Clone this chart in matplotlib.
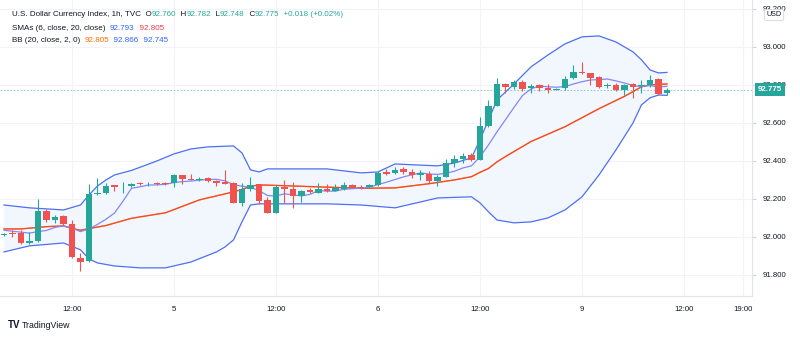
import matplotlib.pyplot as plt
import matplotlib.transforms as mtransforms
import numpy as np

plt.rcParams['font.family'] = ['Liberation Sans', 'DejaVu Sans']

# hourly candles, 04:00 on the 4th .. 10:00 on the 9th
opens = [92.012, 92.022, 92.021, 91.968, 91.981, 92.138, 92.089, 92.109, 92.068, 91.891,
         91.872, 92.226, 92.232, 92.272, 92.266, 92.270, 92.283, 92.277, 92.283, 92.285,
         92.286, 92.325, 92.305, 92.300, 92.309, 92.295, 92.289, 92.284, 92.181, 92.254,
         92.279, 92.196, 92.128, 92.265, 92.251, 92.217, 92.247, 92.233, 92.253, 92.244,
         92.253, 92.274, 92.265, 92.265, 92.272, 92.340, 92.335, 92.360, 92.340, 92.326,
         92.330, 92.296, 92.317, 92.391, 92.409, 92.430, 92.405, 92.584, 92.689, 92.805,
         92.791, 92.816, 92.783, 92.797, 92.786, 92.775, 92.783, 92.835, 92.870, 92.862,
         92.842, 92.792, 92.800, 92.774, 92.805, 92.795, 92.797, 92.832, 92.760]
highs = [92.020, 92.035, 92.036, 92.028, 92.198, 92.146, 92.117, 92.116, 92.089, 91.914,
         92.279, 92.310, 92.284, 92.274, 92.291, 92.286, 92.289, 92.290, 92.290, 92.290,
         92.330, 92.326, 92.330, 92.315, 92.316, 92.300, 92.353, 92.290, 92.283, 92.317,
         92.279, 92.210, 92.274, 92.300, 92.291, 92.247, 92.260, 92.283, 92.280, 92.280,
         92.290, 92.280, 92.272, 92.276, 92.345, 92.360, 92.370, 92.370, 92.360, 92.352,
         92.345, 92.325, 92.409, 92.430, 92.440, 92.440, 92.630, 92.721, 92.835, 92.810,
         92.826, 92.826, 92.804, 92.804, 92.804, 92.784, 92.845, 92.905, 92.919, 92.862,
         92.845, 92.810, 92.810, 92.805, 92.810, 92.826, 92.853, 92.839, 92.782]
lows = [92.005, 92.000, 91.965, 91.963, 91.975, 92.079, 92.072, 92.063, 91.888, 91.823,
        91.868, 92.220, 92.226, 92.244, 92.230, 92.265, 92.272, 92.270, 92.272, 92.275,
        92.265, 92.279, 92.297, 92.295, 92.290, 92.268, 92.279, 92.176, 92.165, 92.244,
        92.175, 92.125, 92.125, 92.177, 92.151, 92.186, 92.230, 92.230, 92.235, 92.240,
        92.245, 92.255, 92.250, 92.263, 92.270, 92.325, 92.330, 92.330, 92.310, 92.300,
        92.285, 92.270, 92.314, 92.370, 92.390, 92.400, 92.403, 92.580, 92.689, 92.760,
        92.776, 92.770, 92.760, 92.770, 92.760, 92.772, 92.773, 92.830, 92.860, 92.800,
        92.785, 92.783, 92.770, 92.745, 92.730, 92.757, 92.790, 92.747, 92.748]
closes = [92.015, 92.015, 91.968, 91.980, 92.138, 92.089, 92.107, 92.068, 91.893, 91.870,
          92.226, 92.232, 92.270, 92.262, 92.270, 92.277, 92.277, 92.280, 92.277, 92.279,
          92.326, 92.304, 92.300, 92.307, 92.295, 92.286, 92.279, 92.181, 92.251, 92.275,
          92.191, 92.128, 92.265, 92.251, 92.216, 92.244, 92.237, 92.251, 92.244, 92.256,
          92.274, 92.260, 92.258, 92.272, 92.335, 92.330, 92.354, 92.344, 92.326, 92.335,
          92.296, 92.317, 92.391, 92.411, 92.426, 92.405, 92.584, 92.689, 92.805, 92.791,
          92.817, 92.779, 92.795, 92.783, 92.775, 92.780, 92.832, 92.867, 92.862, 92.838,
          92.789, 92.797, 92.774, 92.797, 92.789, 92.797, 92.826, 92.751, 92.775]

# SMA 6 line (one value per bar)
sma6 = [92.035, 92.030, 92.025, 92.020, 92.028, 92.034, 92.050, 92.058, 92.046, 92.028,
        92.042, 92.066, 92.093, 92.126, 92.188, 92.256, 92.264, 92.273, 92.274, 92.277,
        92.286, 92.291, 92.294, 92.299, 92.302, 92.303, 92.295, 92.275, 92.267, 92.261,
        92.244, 92.218, 92.215, 92.227, 92.221, 92.216, 92.224, 92.244, 92.241, 92.241,
        92.251, 92.254, 92.257, 92.261, 92.276, 92.288, 92.302, 92.316, 92.327, 92.337,
        92.331, 92.329, 92.335, 92.346, 92.363, 92.374, 92.422, 92.484, 92.553, 92.617,
        92.682, 92.744, 92.779, 92.795, 92.790, 92.788, 92.791, 92.805, 92.817, 92.826,
        92.828, 92.831, 92.821, 92.810, 92.797, 92.791, 92.797, 92.789, 92.793]

# SMA 20 / BB basis, read at a few bars
sma20_idx = [0, 2, 5, 7, 8, 9, 10, 12, 15, 19, 23, 25, 27, 28, 29, 30, 34, 38, 42, 46,
             50, 53, 55, 56, 57, 58, 59, 62, 66, 70, 73, 75, 76, 78]
sma20_val = [92.042, 92.042, 92.054, 92.058, 92.045, 92.035, 92.044, 92.060, 92.098, 92.127,
             92.195, 92.216, 92.237, 92.250, 92.266, 92.274, 92.268, 92.262, 92.256, 92.258,
             92.280, 92.300, 92.317, 92.340, 92.360, 92.395, 92.423, 92.502, 92.580, 92.675,
             92.740, 92.790, 92.800, 92.805]

# Bollinger upper / lower bands
upper_idx = [0, 3, 7, 9, 10, 11, 12, 13, 15, 18, 20, 22, 24, 27, 28, 29, 30, 31, 38, 42,
             44, 46, 51, 53, 55, 56, 57, 58, 60, 62, 64, 66, 68, 70, 72, 74, 75, 76, 77, 78]
upper_val = [92.168, 92.153, 92.142, 92.168, 92.221, 92.268, 92.300, 92.326, 92.350, 92.400,
             92.437, 92.463, 92.474, 92.479, 92.442, 92.353, 92.342, 92.358, 92.358, 92.337,
             92.342, 92.384, 92.374, 92.389, 92.416, 92.511, 92.616, 92.721, 92.805, 92.895,
             92.958, 93.016, 93.053, 93.058, 93.026, 92.974, 92.932, 92.879, 92.863, 92.866]
lower_idx = [0, 3, 7, 9, 10, 11, 13, 16, 19, 22, 25, 26, 27, 28, 29, 30, 34, 38, 42, 46,
             49, 51, 55, 56, 57, 58, 60, 62, 64, 66, 68, 70, 72, 74, 75, 76, 77, 78]
lower_val = [91.921, 91.953, 91.968, 91.932, 91.884, 91.863, 91.847, 91.837, 91.837, 91.868,
             91.921, 91.947, 91.984, 92.079, 92.168, 92.174, 92.174, 92.174, 92.168, 92.153,
             92.184, 92.205, 92.211, 92.179, 92.132, 92.089, 92.074, 92.079, 92.100, 92.142,
             92.211, 92.326, 92.458, 92.600, 92.695, 92.732, 92.747, 92.745]

xtick_pos = [8, 20, 32, 44, 56, 68, 80, 87]
xtick_lbl = ['12:00', '5', '12:00', '6', '12:00', '9', '12:00', '19:00']
last_price = 92.775

UP = '#26a69a'
DOWN = '#ef5350'
TXT = '#131722'

fig = plt.figure(figsize=(8, 3.37), dpi=100)
ax = fig.add_axes([0, 1 - 296 / 337, 752 / 800, 296 / 337])
ax.set_xlim(-0.47, 88.0)
ax.set_ylim(91.689, 93.247)

# bands
ax.fill(np.r_[upper_idx, lower_idx[::-1]], np.r_[upper_val, lower_val[::-1]],
        color='#f1f7fd', lw=0, zorder=1)
ax.plot(upper_idx, upper_val, color='#4d6ff5', lw=0.9, zorder=2)
ax.plot(lower_idx, lower_val, color='#4d6ff5', lw=0.9, zorder=2)
ax.plot(sma20_idx, sma20_val, color='#ff6d00', lw=1.0, zorder=2)
ax.plot(sma20_idx, sma20_val, color='#f23645', lw=0.8, alpha=0.7, zorder=2)
ax.plot(np.arange(len(sma6)), sma6, color='#8587f7', lw=0.9, zorder=2)

# candles
x = np.arange(len(closes))
o = np.array(opens)
c = np.array(closes)
cols = [UP if cc >= oo else DOWN for oo, cc in zip(o, c)]
ax.vlines(x, lows, highs, colors=cols, lw=0.8, zorder=3)
ax.bar(x, np.maximum(np.abs(c - o), 0.004), bottom=np.minimum(o, c), width=0.72,
       color=cols, lw=0, zorder=4)

# last price line + label
ax.axhline(last_price, color=UP, lw=0.6, ls=(0, (2, 2)), alpha=0.6, zorder=2)
trans = mtransforms.blended_transform_factory(ax.transAxes, ax.transData)
ax.annotate(f'{last_price:.3f}', xy=(1, last_price), xycoords=trans,
            xytext=(4, 0), textcoords='offset points', ha='left', va='center',
            color='white', fontsize=5.8, fontweight='bold', zorder=10, annotation_clip=False,
            bbox=dict(boxstyle='square,pad=0.35', fc=UP, ec='none'))

# axes styling
yt = np.arange(91.8, 93.21, 0.2)
ax.yaxis.tick_right()
ax.set_yticks(yt)
ax.set_yticklabels([f'{v:.3f}' for v in yt])
ax.set_xticks(xtick_pos)
ax.set_xticklabels(xtick_lbl)
ax.tick_params(axis='y', length=3, color='#d1d4dc', labelsize=5.6, labelcolor=TXT, pad=5)
ax.tick_params(axis='x', length=0, labelsize=5.6, labelcolor=TXT, pad=7)
ax.grid(color='#f0f3fa', lw=0.8, zorder=0)
ax.set_axisbelow(True)
for s in ['top', 'left']:
    ax.spines[s].set_visible(False)
for s in ['right', 'bottom']:
    ax.spines[s].set_color('#e0e3eb')
    ax.spines[s].set_linewidth(0.8)

fig.text(774 / 800, 1 - 15 / 337, 'USD', ha='center', va='center', fontsize=5.2, color=TXT,
         bbox=dict(boxstyle='round,pad=0.3', fc='white', ec='#d1d4dc', lw=0.6), zorder=10)


def line(yf, parts, size=5.8):
    # coloured pieces chained left to right
    t = fig.text(12 / 800, yf, parts[0][0], color=parts[0][1], fontsize=size, va='center')
    for s, col in parts[1:]:
        t = ax.annotate(s, xy=(1, 0.5), xycoords=t, xytext=(0, 0), textcoords='offset points',
                        ha='left', va='center', color=col, fontsize=size, annotation_clip=False)
    return t


line(1 - 15 / 337, [('U.S. Dollar Currency Index, 1h, TVC  O', TXT), ('92.760', UP),
                    ('  H', TXT), ('92.782', UP), ('  L', TXT), ('92.748', UP),
                    ('  C', TXT), ('92.775', UP), ('  +0.018 (+0.02%)', UP)])
line(1 - 28 / 337, [('SMAs (6, close, 20, close)  ', TXT), ('92.793', '#2962ff'),
                    ('  92.805', '#f23645')])
line(1 - 41 / 337, [('BB (20, close, 2, 0)  ', TXT), ('92.805', '#ff6d00'),
                    ('  92.866', '#2962ff'), ('  92.745', '#2962ff')])

fig.text(8 / 800, 1 - 325 / 337, 'TV', fontsize=7, fontweight='heavy', color=TXT, va='center')
fig.text(22 / 800, 1 - 325 / 337, 'TradingView', fontsize=6.3, color=TXT, va='center')

fig.savefig('out.png', dpi=100, facecolor='white')
